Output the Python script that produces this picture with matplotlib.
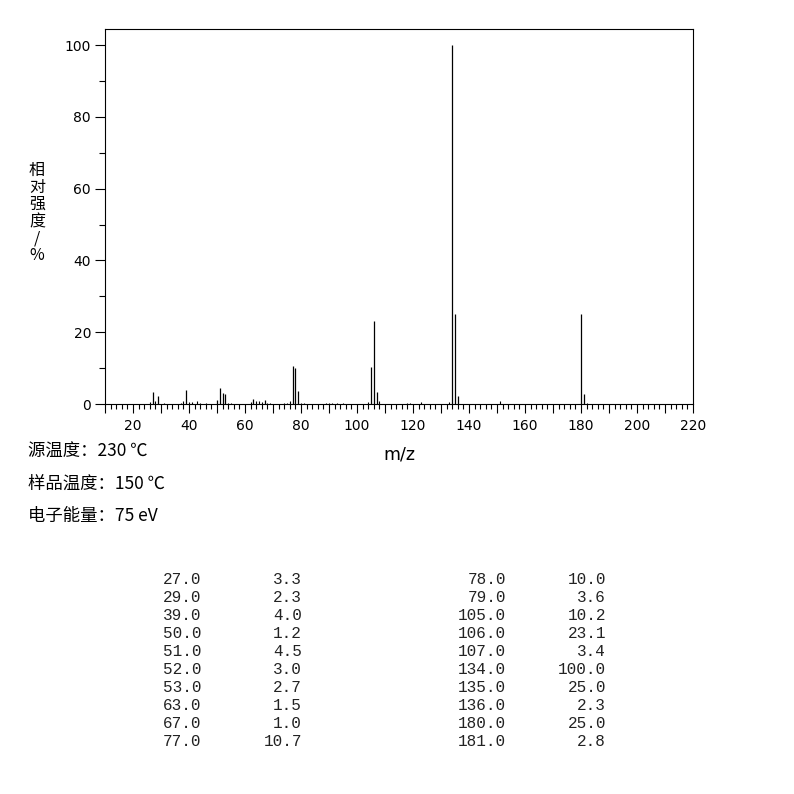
import matplotlib.pyplot as plt
from matplotlib.ticker import MultipleLocator, FuncFormatter

plt.rcParams['font.family'] = ['DejaVu Sans', 'Noto Sans CJK SC']

# listed peaks (m/z, relative intensity %)
peak_mz = [27, 29, 39, 50, 51, 52, 53, 63, 67, 77,
           78, 79, 105, 106, 107, 134, 135, 136, 180, 181]
peak_int = [3.3, 2.3, 4.0, 1.2, 4.5, 3.0, 2.7, 1.5, 1.0, 10.7,
            10.0, 3.6, 10.2, 23.1, 3.4, 100.0, 25.0, 2.3, 25.0, 2.8]

# minor peaks
minor_mz = [26, 28, 31, 37, 38, 40, 41, 43, 44, 46, 54, 55, 62, 64, 65, 66,
            68, 69, 74, 75, 76, 80, 81, 89, 90, 91, 93, 95, 104, 108, 118,
            119, 123, 133, 151, 182]
minor_int = [0.5, 0.9, 0.3, 0.4, 0.9, 0.5, 0.5, 0.8, 0.4, 0.3, 0.4, 0.3,
             0.6, 0.8, 0.9, 0.6, 0.4, 0.3, 0.3, 0.4, 0.7, 0.4, 0.3, 0.4,
             0.4, 0.3, 0.3, 0.3, 0.5, 0.8, 0.4, 0.4, 0.6, 0.5, 0.7, 0.3]

info_lines = ['源温度：230 ℃', '样品温度：150 ℃', '电子能量：75 eV']

W = 794
cjk = ['Noto Sans CJK SC', 'DejaVu Sans']
fig = plt.figure(figsize=(7.94, 7.94), dpi=100)
ax = fig.add_axes([105 / W, 1 - 404 / W, 588 / W, 375 / W])

ax.vlines(minor_mz, 0, minor_int, color='black', linewidth=0.8)
ax.vlines(peak_mz, 0, peak_int, color='black', linewidth=0.9)

ax.set_xlim(10, 220)
ax.set_ylim(0, 104.5)

ax.xaxis.set_major_locator(MultipleLocator(10))
ax.xaxis.set_minor_locator(MultipleLocator(2))
ax.xaxis.set_major_formatter(FuncFormatter(lambda v, p: f"{v:.0f}" if round(v) % 20 == 0 else ""))
ax.yaxis.set_major_locator(MultipleLocator(20))
ax.yaxis.set_minor_locator(MultipleLocator(10))

ax.tick_params(axis='x', which='major', direction='out', length=6.5, width=0.8, labelsize=10, pad=4)
ax.tick_params(axis='x', which='minor', direction='out', length=3.5, width=0.8)
ax.tick_params(axis='y', which='major', direction='out', length=7, width=0.8, labelsize=10, pad=3)
ax.tick_params(axis='y', which='minor', direction='out', length=4, width=0.8)
for s in ax.spines.values():
    s.set_linewidth(0.8)

ax.set_xlabel('m/z', fontsize=12.5, labelpad=9)

# vertical y label
fig.text(37 / W, 1 - 213 / W, '相\n对\n强\n度\n/\n%', ha='center', va='center',
         fontsize=11.5, linespacing=1.0, family=cjk)

# instrument info
for i, line in enumerate(info_lines):
    fig.text(28 / W, 1 - (452 + 32 * i) / W, line, ha='left', va='center',
             fontsize=12.5, family=cjk)

# peak table
half = len(peak_mz) // 2
col_x = [(201, 302), (506, 606)]
for c in range(2):
    for r in range(half):
        k = c * half + r
        y = 1 - (580 + 18 * r) / W
        fig.text(col_x[c][0] / W, y, f"{peak_mz[k]:.1f}", ha='right', va='center',
                 fontsize=11.5, family='Liberation Mono', color='#222222')
        fig.text(col_x[c][1] / W, y, f"{peak_int[k]:.1f}", ha='right', va='center',
                 fontsize=11.5, family='Liberation Mono', color='#222222')

fig.savefig('out.png', dpi=100)
